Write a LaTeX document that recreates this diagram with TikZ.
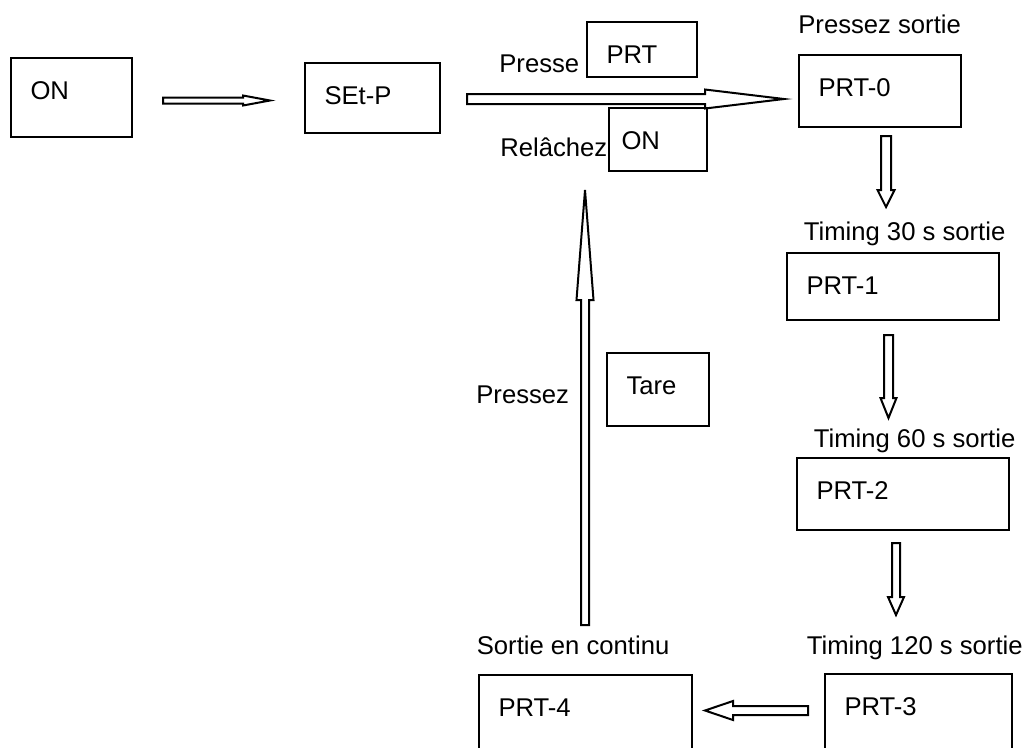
\documentclass[tikz,border=0pt]{standalone}
\usepackage{fontspec}
\setmainfont{Liberation Sans}
\usetikzlibrary{calc}

% hollow block arrow: start, end, shaft half width, head half width, head length
\newcommand{\blockarrow}[5]{%
  \coordinate (ba-s) at #1;
  \coordinate (ba-e) at #2;
  \coordinate (ba-h) at ($(ba-e)!#5!(ba-s)$);
  \draw[hollow] ($(ba-s)!#3!90:(ba-e)$) -- ($(ba-h)!#3!90:(ba-e)$) -- ($(ba-h)!#4!90:(ba-e)$)
    -- (ba-e) -- ($(ba-h)!#4!-90:(ba-e)$) -- ($(ba-h)!#3!-90:(ba-e)$) -- ($(ba-s)!#3!-90:(ba-e)$) -- cycle;
}

\begin{document}
\begin{tikzpicture}[font=\fontsize{14.6}{17}\selectfont,
  box/.style 2 args={draw, line width=0.04cm, anchor=north west, inner xsep=0.39cm, inner ysep=0pt, outer sep=0pt,
    align=left, text width=#1, text height=0.83cm, text depth=#2},
  lbl/.style={anchor=base west, inner sep=0pt},
  hollow/.style={draw, line width=0.04cm}]
\useasboundingbox (0,0) rectangle (20.52,-14.94);
\clip (0,0) rectangle (20.52,-14.94);
\node[box={1.64cm}{0.75cm}] (on) at (0.22,-1.16) {ON};
\node[box={1.92cm}{0.57cm}] (setp) at (6.10,-1.26) {SEt-P};
\node[box={1.42cm}{0.27cm}] (prt) at (11.74,-0.44) {PRT};
\node[box={1.46cm}{0.43cm},inner xsep=0.25cm] (relon) at (12.18,-2.16) {ON};
\node[box={2.46cm}{0.61cm}] (prt0) at (15.98,-1.10) {PRT-0};
\node[box={3.46cm}{0.51cm}] (prt1) at (15.74,-5.06) {PRT-1};
\node[box={3.46cm}{0.61cm}] (prt2) at (15.94,-9.16) {PRT-2};
\node[box={1.26cm}{0.63cm}] (tare) at (12.14,-7.06) {Tare};
\node[box={3.48cm}{1.5cm}] (prt4) at (9.58,-13.50) {PRT-4};
\node[box={2.96cm}{1.5cm}] (prt3) at (16.50,-13.48) {PRT-3};
\node[lbl] (lout0) at (15.96,-0.66) {Pressez sortie};
\node[lbl] (lpress) at (9.98,-1.44) {Presse};
\node[lbl] (lrel) at (10.00,-3.12) {Relâchez};
\node[lbl] (lout1) at (16.07,-4.80) {Timing 30 s sortie};
\node[lbl] (lout2) at (16.27,-8.94) {Timing 60 s sortie};
\node[lbl] (lpressez) at (9.52,-8.06) {Pressez};
\node[lbl] (lout4) at (9.53,-13.08) {Sortie en continu};
\node[lbl] (lout3) at (16.13,-13.08) {Timing 120 s sortie};
\blockarrow{($(on.east)+(0.62,-0.06)$)}{($(setp.west)+(-0.70,-0.05)$)}{0.06cm}{0.10cm}{0.54cm}
\blockarrow{($(setp.east)+(0.54,-0.02)$)}{($(prt0.west)+(-0.30,-0.16)$)}{0.10cm}{0.19cm}{1.58cm}
\blockarrow{($(prt0.south)+(0.12,-0.18)$)}{($(prt1.north)+(-0.14,0.92)$)}{0.10cm}{0.17cm}{0.34cm}
\blockarrow{($(prt1.south)+(-0.09,-0.30)$)}{($(prt2.north)+(-0.29,0.80)$)}{0.09cm}{0.16cm}{0.40cm}
\blockarrow{($(prt2.south)+(-0.14,-0.26)$)}{($(prt3.north)+(-0.45,1.18)$)}{0.08cm}{0.16cm}{0.36cm}
\blockarrow{($(prt3.north west)+(-0.34,-0.73)$)}{($(prt4.north east)+(0.26,-0.71)$)}{0.09cm}{0.19cm}{0.56cm}
\blockarrow{($(prt4.north)+(-0.01,1.00)$)}{($(relon.south west)+(-0.48,-0.38)$)}{0.08cm}{0.17cm}{2.20cm}
\end{tikzpicture}
\end{document}
